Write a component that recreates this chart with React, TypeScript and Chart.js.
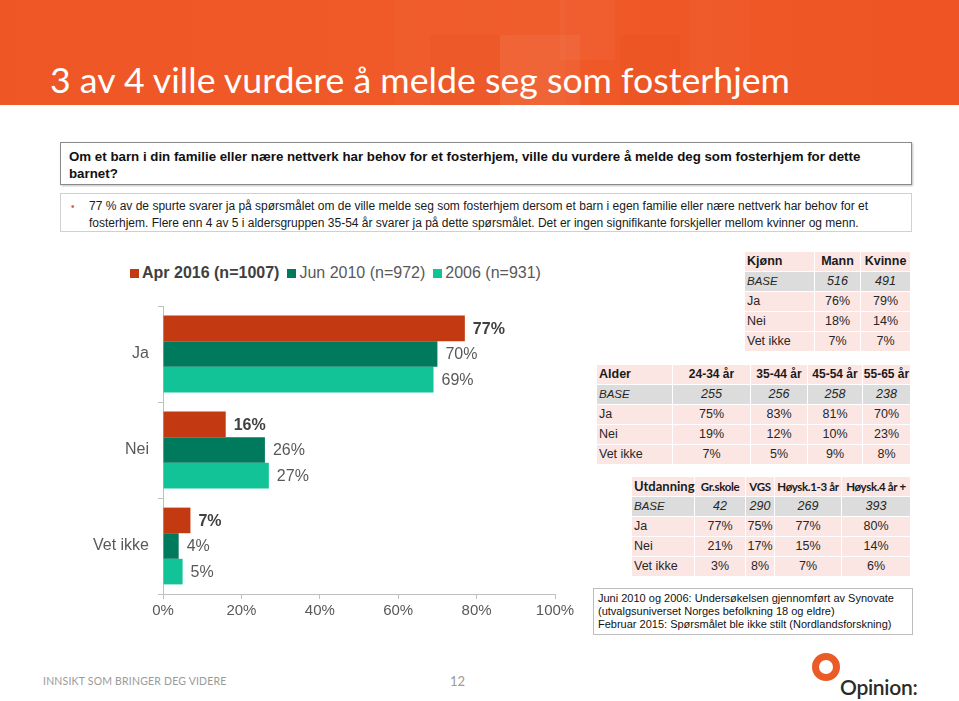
import React, { useEffect, useLayoutEffect, useRef, useState } from "react";
import { Chart, registerables } from "chart.js";

Chart.register(...registerables);

const categories = ["Ja", "Nei", "Vet ikke"];
const seriesNames = ["Apr 2016 (n=1007)", "Jun 2010 (n=972)", "2006 (n=931)"];
const apr2016 = [77, 16, 7];
const jun2010 = [70, 26, 4];
const y2006 = [69, 27, 5];
const seriesColors = ["#C33A12", "#007A5D", "#12C398"];
const xTicks = [0, 20, 40, 60, 80, 100];

const kjonnHeader = ["Kjønn", "Mann", "Kvinne"];
const kjonnBase = ["516", "491"];
const kjonnJa = ["76%", "79%"];
const kjonnNei = ["18%", "14%"];
const kjonnVetIkke = ["7%", "7%"];

const alderHeader = ["Alder", "24-34 år", "35-44 år", "45-54 år", "55-65 år"];
const alderBase = ["255", "256", "258", "238"];
const alderJa = ["75%", "83%", "81%", "70%"];
const alderNei = ["19%", "12%", "10%", "23%"];
const alderVetIkke = ["7%", "5%", "9%", "8%"];

const utdHeader = ["Utdanning", "Gr.skole", "VGS", "Høysk.1-3 år", "Høysk.4 år +"];
const utdBase = ["42", "290", "269", "393"];
const utdJa = ["77%", "75%", "77%", "80%"];
const utdNei = ["21%", "17%", "15%", "14%"];
const utdVetIkke = ["3%", "8%", "7%", "6%"];

const FONT = "'Liberation Sans', Arial, sans-serif";

const labelPlugin = {
  id: "barValueLabels",
  afterDatasetsDraw(chart: any) {
    const ctx = chart.ctx;
    chart.data.datasets.forEach((ds: any, di: number) => {
      const meta = chart.getDatasetMeta(di);
      meta.data.forEach((el: any, i: number) => {
        ctx.save();
        ctx.font = (di === 0 ? "bold " : "") + "16px " + FONT;
        ctx.fillStyle = di === 0 ? "#404040" : "#595959";
        ctx.textAlign = "left";
        ctx.textBaseline = "middle";
        ctx.fillText(ds.data[i] + "%", el.x + 8, el.y + 1);
        ctx.restore();
      });
    });
  },
};

function BarChart() {
  const ref = useRef<HTMLCanvasElement>(null);
  useEffect(() => {
    if (!ref.current) return;
    const chart = new Chart(ref.current, {
      type: "bar",
      data: {
        labels: categories,
        datasets: [apr2016, jun2010, y2006].map((d, i) => ({
          label: seriesNames[i],
          data: d,
          backgroundColor: seriesColors[i],
          borderWidth: 0,
          categoryPercentage: 0.8,
          barPercentage: 1.0,
        })),
      },
      options: {
        indexAxis: "y",
        animation: false,
        responsive: false,
        maintainAspectRatio: false,
        layout: { padding: { top: 6, right: 33, left: 0, bottom: 0 } },
        plugins: { legend: { display: false }, tooltip: { enabled: false } },
        scales: {
          x: {
            min: 0,
            max: 100,
            afterBuildTicks: (s: any) => {
              s.ticks = xTicks.map((v) => ({ value: v }));
            },
            afterFit: (s: any) => {
              s.height = 31;
            },
            ticks: {
              callback: (v: any) => v + "%",
              color: "#595959",
              font: { size: 15, family: FONT },
              padding: 3,
              maxRotation: 0,
            },
            grid: { drawOnChartArea: false, drawTicks: true, tickLength: 5, color: "#BFBFBF" },
            border: { display: true, color: "#BFBFBF", width: 1 },
          },
          y: {
            afterFit: (s: any) => {
              s.width = 75;
              s.paddingTop = 0;
              s.paddingBottom = 0;
            },
            ticks: {
              color: "#595959",
              font: { size: 16, family: FONT },
              padding: 9,
            },
            grid: { drawOnChartArea: false, drawTicks: true, tickLength: 5, offset: true, color: "#BFBFBF" },
            border: { display: true, color: "#BFBFBF", width: 1 },
          },
        },
      },
      plugins: [labelPlugin],
    } as any);
    return () => chart.destroy();
  }, []);
  return (
    <canvas
      ref={ref}
      width={500}
      height={325}
      style={{ position: "absolute", left: 88, top: 300, width: 500, height: 325 }}
    />
  );
}

function Legend() {
  return (
    <div
      style={{
        position: "absolute",
        left: 130,
        top: 263,
        display: "flex",
        alignItems: "center",
        fontFamily: FONT,
        fontSize: 16,
        color: "#595959",
        whiteSpace: "nowrap",
        lineHeight: "20px",
      }}
    >
      {seriesNames.map((n, i) => (
        <span key={n} style={{ display: "flex", alignItems: "center", marginRight: 8 }}>
          <span
            style={{ display: "inline-block", width: 9, height: 9, background: seriesColors[i], marginRight: 3 }}
          />
          <span style={{ fontWeight: i === 0 ? "bold" : "normal", color: i === 0 ? "#404040" : "#595959" }}>{n}</span>
        </span>
      ))}
    </div>
  );
}

type TableProps = {
  left: number;
  top: number;
  widths: number[];
  header: string[];
  rows: { label: string; values: string[]; base?: boolean }[];
  headerFont?: string;
  headerSize?: number;
  firstHeaderSize?: number;
  headerSpacing?: number;
};

function DataTable({ left, top, widths, header, rows, headerFont, headerSize, firstHeaderSize, headerSpacing }: TableProps) {
  const rowH = 20;
  const cells: React.ReactNode[] = [];
  let x = 0;
  const xs = widths.map((w) => {
    const v = x;
    x += w;
    return v;
  });
  header.forEach((h, ci) => {
    cells.push(
      <div
        key={"h" + ci}
        style={{
          position: "absolute",
          left: xs[ci],
          top: 0,
          width: widths[ci] - 1,
          height: rowH - 1,
          background: "#FBE6E4",
          fontWeight: "bold",
          fontFamily: headerFont || FONT,
          fontSize: ci === 0 ? firstHeaderSize || headerSize || 12.5 : headerSize || 12.5,
          letterSpacing: ci === 0 ? 0 : headerSpacing || 0,
          textAlign: ci === 0 ? "left" : "center",
          paddingLeft: ci === 0 ? 2 : 0,
          boxSizing: "border-box",
          lineHeight: rowH - 1 + "px",
          whiteSpace: "nowrap",
          color: "#1a1a1a",
          overflow: "visible",
        }}
      >
        {h}
      </div>
    );
  });
  rows.forEach((r, ri) => {
    const y = (ri + 1) * rowH;
    [r.label, ...r.values].forEach((v, ci) => {
      cells.push(
        <div
          key={"r" + ri + "c" + ci}
          style={{
            position: "absolute",
            left: xs[ci],
            top: y,
            width: widths[ci] - 1,
            height: rowH - 1,
            background: r.base ? "#DCDCDC" : "#FBE6E4",
            fontStyle: r.base ? "italic" : "normal",
            fontFamily: FONT,
            fontSize: r.base && ci === 0 ? 11.5 : 12.5,
            textAlign: ci === 0 ? "left" : "center",
            paddingLeft: ci === 0 ? 2 : 0,
            boxSizing: "border-box",
            lineHeight: rowH - 1 + "px",
            whiteSpace: "nowrap",
            color: "#262626",
          }}
        >
          {v}
        </div>
      );
    });
  });
  return <div style={{ position: "absolute", left, top, width: x, height: rowH * 5 }}>{cells}</div>;
}

export default function App() {
  const titleRef = useRef<HTMLSpanElement>(null);
  const [titleSize, setTitleSize] = useState(30);
  useLayoutEffect(() => {
    if (!titleRef.current) return;
    const w = titleRef.current.getBoundingClientRect().width;
    if (Math.abs(w - 740) > 2) setTitleSize((s) => (s * 740) / w);
  }, [titleSize]);

  return (
    <div
      style={{
        position: "fixed",
        left: 0,
        top: 0,
        width: 959,
        height: 701,
        background: "#FFFFFF",
        overflow: "hidden",
        fontFamily: FONT,
      }}
    >
      {/* Header */}
      <div
        style={{
          position: "absolute",
          left: 0,
          top: 0,
          width: 959,
          height: 105,
          background: "linear-gradient(90deg, #EF5626 0%, #F05A28 50%, #EE5424 100%)",
        }}
      >
        <div style={{ position: "absolute", left: 395, top: 0, width: 170, height: 105, background: "rgba(255,255,255,0.025)" }} />
        <div style={{ position: "absolute", left: 430, top: 35, width: 70, height: 70, background: "rgba(200,40,0,0.07)" }} />
        <div style={{ position: "absolute", left: 500, top: 35, width: 80, height: 70, background: "rgba(255,255,255,0.05)" }} />
        <div style={{ position: "absolute", left: 560, top: 0, width: 55, height: 60, background: "rgba(255,255,255,0.035)" }} />
        <div style={{ position: "absolute", left: 620, top: 35, width: 60, height: 70, background: "rgba(200,40,0,0.05)" }} />
        <div style={{ position: "absolute", left: 690, top: 0, width: 60, height: 105, background: "rgba(255,255,255,0.02)" }} />
        <span
          ref={titleRef}
          style={{
            position: "absolute",
            left: 50,
            top: 80,
            transform: "translateY(-50%)",
            color: "#FFFFFF",
            fontFamily: "'Lato', 'Open Sans', sans-serif",
            fontSize: titleSize,
            whiteSpace: "nowrap",
            lineHeight: 1,
          }}
        >
          3 av 4 ville vurdere å melde seg som fosterhjem
        </span>
      </div>

      {/* Question box */}
      <div
        style={{
          position: "absolute",
          left: 60,
          top: 142,
          width: 852,
          height: 43,
          border: "1px solid #8A8A8A",
          boxShadow: "1px 1px 2px rgba(0,0,0,0.25)",
          boxSizing: "border-box",
          padding: "5px 40px 5px 8px",
          fontWeight: "bold",
          fontSize: 13.3,
          lineHeight: "17px",
          color: "#111",
        }}
      >
        Om et barn i din familie eller nære nettverk har behov for et fosterhjem, ville du vurdere å melde deg som fosterhjem for dette barnet?
      </div>

      {/* Summary box */}
      <div
        style={{
          position: "absolute",
          left: 60,
          top: 193,
          width: 852,
          height: 39,
          border: "1px solid #D0D0D0",
          boxSizing: "border-box",
          padding: "4px 8px 2px 28px",
          fontSize: 12,
          lineHeight: "17px",
          color: "#1a1a1a",
        }}
      >
        <span style={{ position: "absolute", left: 10, top: 4, color: "#E0663A", fontSize: 10 }}>•</span>
        77 % av de spurte svarer ja på spørsmålet om de ville melde seg som fosterhjem dersom et barn i egen familie eller nære nettverk har behov for et fosterhjem. Flere enn 4 av 5 i aldersgruppen 35-54 år svarer ja på dette spørsmålet. Det er ingen signifikante forskjeller mellom kvinner og menn.
      </div>

      <Legend />
      <BarChart />

      <DataTable
        left={745}
        top={252}
        widths={[70, 46, 50]}
        header={kjonnHeader}
        rows={[
          { label: "BASE", values: kjonnBase, base: true },
          { label: "Ja", values: kjonnJa },
          { label: "Nei", values: kjonnNei },
          { label: "Vet ikke", values: kjonnVetIkke },
        ]}
      />
      <DataTable
        left={597}
        top={365}
        widths={[76, 78, 57, 55, 48]}
        header={alderHeader}
        headerSize={12}
        firstHeaderSize={12.5}
        rows={[
          { label: "BASE", values: alderBase, base: true },
          { label: "Ja", values: alderJa },
          { label: "Nei", values: alderNei },
          { label: "Vet ikke", values: alderVetIkke },
        ]}
      />
      <DataTable
        left={632}
        top={477}
        widths={[63, 51, 29, 67, 69]}
        header={utdHeader}
        headerFont="'Lato', 'Open Sans', sans-serif"
        headerSize={11.5}
        firstHeaderSize={13}
        headerSpacing={-0.35}
        rows={[
          { label: "BASE", values: utdBase, base: true },
          { label: "Ja", values: utdJa },
          { label: "Nei", values: utdNei },
          { label: "Vet ikke", values: utdVetIkke },
        ]}
      />

      {/* Note box */}
      <div
        style={{
          position: "absolute",
          left: 593,
          top: 588,
          width: 320,
          height: 47,
          border: "1px solid #BDBDBD",
          boxSizing: "border-box",
          padding: "3px 4px",
          fontSize: 11,
          lineHeight: "13px",
          color: "#111",
          whiteSpace: "nowrap",
        }}
      >
        <div>Juni 2010 og 2006: Undersøkelsen gjennomført av Synovate</div>
        <div>(utvalgsuniverset Norges befolkning 18 og eldre)</div>
        <div>Februar 2015: Spørsmålet ble ikke stilt (Nordlandsforskning)</div>
      </div>

      {/* Footer */}
      <div
        style={{
          position: "absolute",
          left: 43,
          top: 675,
          fontFamily: "'Lato', sans-serif",
          fontSize: 10.5,
          color: "#9A9A9A",
          whiteSpace: "nowrap",
          letterSpacing: 0.2,
        }}
      >
        INNSIKT SOM BRINGER DEG VIDERE
      </div>
      <div
        style={{
          position: "absolute",
          left: 450,
          top: 673,
          fontFamily: "'Lato', sans-serif",
          fontSize: 13,
          color: "#9A9A9A",
        }}
      >
        12
      </div>
      <div
        style={{
          position: "absolute",
          left: 812,
          top: 653,
          width: 14,
          height: 14,
          borderRadius: "50%",
          border: "7px solid #EA5B28",
        }}
      />
      <div
        style={{
          position: "absolute",
          left: 840,
          top: 676,
          fontFamily: "'Lato', sans-serif",
          fontWeight: 600,
          fontSize: 21,
          color: "#2B2B2B",
          lineHeight: 1,
          letterSpacing: -0.3,
        }}
      >
        Opinion:
      </div>
    </div>
  );
}
